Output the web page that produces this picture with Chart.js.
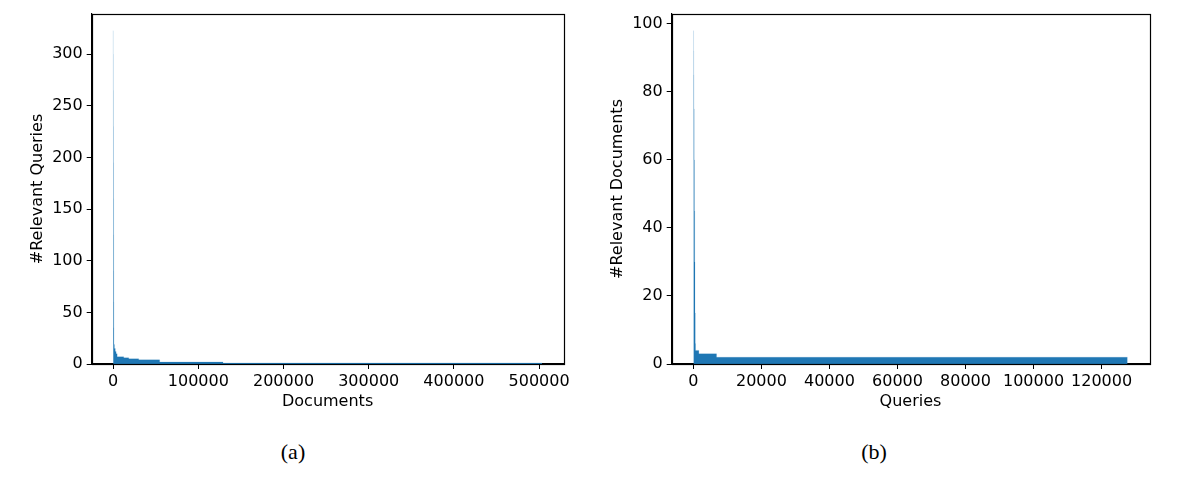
<!DOCTYPE html>
<html>
<head>
<meta charset="utf-8">
<script src="https://cdn.jsdelivr.net/npm/chart.js@4.4.1/dist/chart.umd.min.js"></script>
<style>
  html, body { margin: 0; padding: 0; background: #fff; }
  body { width: 1177px; height: 481px; position: relative; overflow: hidden; }
  canvas { position: absolute; top: 0; }
  #chartA { left: 0; }
  #chartB { left: 580px; }
  .caption {
    position: absolute; top: 452px;
    transform: translate(-50%, -50%);
    font-family: "Liberation Serif", "DejaVu Serif", serif;
    font-size: 22px; line-height: 1; color: #000;
  }
</style>
</head>
<body>
<canvas id="chartA" width="580" height="420"></canvas>
<canvas id="chartB" width="597" height="420"></canvas>
<div class="caption" style="left:293px">(a)</div>
<div class="caption" style="left:874px">(b)</div>
<script>
// (a) documents sorted by number of relevant queries (value held from this rank until the next one)
const docRanks   = [0, 60, 160, 260, 360, 460, 560, 660, 760, 860, 1000, 1500, 2500, 3500, 4700, 12400, 18300, 30000, 54600, 129000, 503500];
const docQueries = [323, 300, 265, 230, 195, 160, 125, 90, 60, 35, 19, 15, 12, 10, 7, 6, 5, 4, 2, 1, 1];
const docXTicks  = [0, 100000, 200000, 300000, 400000, 500000];
const docYTicks  = [0, 50, 100, 150, 200, 250, 300];

// (b) queries sorted by number of relevant documents
const queryRanks = [0, 40, 90, 150, 220, 300, 380, 460, 540, 620, 1600, 6800, 127650];
const queryDocs  = [98, 92, 85, 75, 60, 45, 30, 15, 6, 4, 3, 2, 2];
const queryXTicks = [0, 20000, 40000, 60000, 80000, 100000, 120000];
const queryYTicks = [0, 20, 40, 60, 80, 100];

const BLUE = '#1f77b4';
const FONT = { family: "'DejaVu Sans', sans-serif", size: 16 };

// matplotlib style frame (top + right spines)
const framePlugin = {
    id: 'frame',
    afterDraw(chart) {
        const a = chart.chartArea, c = chart.ctx;
        c.save();
        c.strokeStyle = '#000';
        c.lineWidth = 1.2;
        c.strokeRect(Math.round(a.left) + 0.5, Math.round(a.top) + 0.5,
                     Math.round(a.right - a.left), Math.round(a.bottom - a.top));
        c.restore();
    }
};

function makeChart(id, ranks, counts, xTicks, yTicks, yMax, xTitle, yTitle, padRight) {
    const last = ranks[ranks.length - 1];
    const pts = ranks.map((r, i) => ({ x: r, y: counts[i] }));
    return new Chart(document.getElementById(id), {
        type: 'line',
        data: {
            datasets: [{
                data: pts,
                stepped: 'before',
                fill: 'origin',
                backgroundColor: BLUE,
                borderColor: 'rgba(31,119,180,0.25)',
                borderWidth: 0.6,
                pointRadius: 0,
                tension: 0
            }]
        },
        options: {
            responsive: false,
            animation: false,
            events: [],
            layout: { padding: { left: 28.4, top: 14, right: padRight, bottom: 8.9 } },
            plugins: { legend: { display: false }, tooltip: { enabled: false } },
            scales: {
                x: {
                    type: 'linear',
                    min: -0.05 * last,
                    max: 1.05 * last,
                    afterBuildTicks: s => { s.ticks = xTicks.map(v => ({ value: v })); },
                    afterFit: s => { s.height = 47.1; },
                    grid: { display: true, drawOnChartArea: false, drawTicks: true, tickLength: 5, color: '#000', lineWidth: 1 },
                    border: { display: true, color: '#000', width: 1.2 },
                    ticks: { font: FONT, color: '#000', padding: 3, maxRotation: 0, autoSkip: false, callback: v => String(v) },
                    title: { display: true, text: xTitle, font: FONT, color: '#000', padding: 0 }
                },
                y: {
                    type: 'linear',
                    min: 0,
                    max: yMax,
                    afterBuildTicks: s => { s.ticks = yTicks.map(v => ({ value: v })); },
                    afterFit: s => { s.width = 63.3; },
                    grid: { display: true, drawOnChartArea: false, drawTicks: true, tickLength: 5, color: '#000', lineWidth: 1 },
                    border: { display: true, color: '#000', width: 1.2 },
                    ticks: { font: FONT, color: '#000', padding: 4, autoSkip: false, callback: v => String(v) },
                    title: { display: true, text: yTitle, font: FONT, color: '#000', padding: 0 }
                }
            }
        },
        plugins: [framePlugin]
    });
}

makeChart('chartA', docRanks, docQueries, docXTicks, docYTicks, 339, 'Documents', '#Relevant Queries', 16.5);
makeChart('chartB', queryRanks, queryDocs, queryXTicks, queryYTicks, 102.9, 'Queries', '#Relevant Documents', 27.7);
</script>
</body>
</html>
